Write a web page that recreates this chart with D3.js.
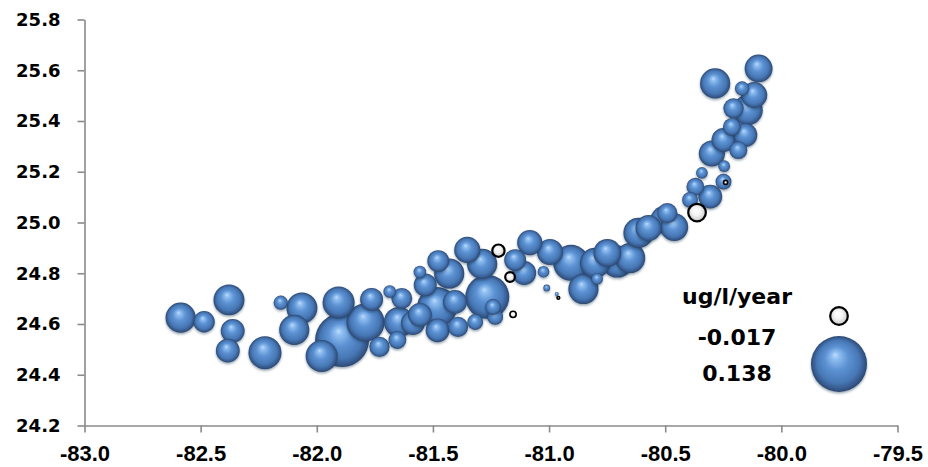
<!DOCTYPE html>
<html>
<head>
<meta charset="utf-8">
<script src="https://cdn.jsdelivr.net/npm/d3@7"></script>
<style>
  html, body { margin: 0; padding: 0; background: #fff; }
  svg { display: block; }
</style>
</head>
<body>
<svg id="chart" width="928" height="467"></svg>
<script>
// Station longitude, latitude and trend (ug/l/year); negative trends are drawn hollow
const lon = [
  -82.586, -82.485, -82.378, -82.362, -82.383, -82.223, -82.155, -82.064, -82.097,
  -81.906, -81.891, -81.979, -81.790, -81.764, -81.686, -81.634, -81.646, -81.730,
  -81.653, -81.556, -81.533, -81.477, -81.430, -81.352, -81.288, -81.266, -81.482,
  -81.586, -81.480, -81.392, -81.318, -81.232, -81.241, -81.405, -81.556, -81.146,
  -81.107, -81.083, -81.024, -81.010, -80.967, -80.996, -80.905, -80.852, -80.793,
  -80.802, -80.749, -80.706, -80.651, -80.615, -80.572, -80.504, -80.461, -80.491,
  -80.393, -80.370, -80.306, -80.342, -80.246, -80.249, -80.299, -80.185, -80.249,
  -80.155, -80.213, -80.206, -80.145, -80.169, -80.117, -80.285, -80.098,
  -81.218, -81.168, -81.155, -80.960, -80.363, -80.240
];
const lat = [
  24.625, 24.609, 24.695, 24.573, 24.495, 24.487, 24.684, 24.663, 24.577,
  24.685, 24.537, 24.474, 24.606, 24.697, 24.728, 24.701, 24.608, 24.510,
  24.537, 24.805, 24.754, 24.848, 24.799, 24.892, 24.837, 24.707, 24.667,
  24.604, 24.575, 24.589, 24.608, 24.628, 24.667, 24.687, 24.636, 24.852,
  24.801, 24.921, 24.806, 24.742, 24.718, 24.884, 24.841, 24.738, 24.778,
  24.841, 24.880, 24.846, 24.860, 24.959, 24.978, 25.010, 24.982, 25.037,
  25.089, 25.141, 25.102, 25.196, 25.222, 25.161, 25.272, 25.285, 25.325,
  25.345, 25.377, 25.450, 25.443, 25.528, 25.502, 25.548, 25.607,
  24.889, 24.785, 24.638, 24.703, 25.039, 25.158
];
const rate = [
  0.040, 0.020, 0.042, 0.025, 0.025, 0.048, 0.009, 0.042, 0.040,
  0.045, 0.128, 0.045, 0.064, 0.023, 0.007, 0.019, 0.040, 0.018,
  0.014, 0.007, 0.023, 0.021, 0.040, 0.030, 0.040, 0.085, 0.070,
  0.025, 0.025, 0.018, 0.011, 0.011, 0.011, 0.025, 0.025, 0.021,
  0.025, 0.028, 0.006, 0.002, 0.0007, 0.030, 0.057, 0.040, 0.006,
  0.040, 0.034, 0.045, 0.040, 0.040, 0.030, 0.034, 0.034, 0.018,
  0.011, 0.014, 0.025, 0.006, 0.006, 0.011, 0.030, 0.014, 0.025,
  0.025, 0.014, 0.018, 0.040, 0.009, 0.030, 0.040, 0.034,
  -0.009, -0.006, -0.003, -0.001, -0.017, -0.0016
];

const xTicks = [-83.0, -82.5, -82.0, -81.5, -81.0, -80.5, -80.0, -79.5];
const yTicks = [24.2, 24.4, 24.6, 24.8, 25.0, 25.2, 25.4, 25.6, 25.8];

const legendTitle = "ug/l/year";
const legendValues = [-0.017, 0.138];

const svg = d3.select("#chart");
const axisColor = "#8a8a8a";

const x = d3.scaleLinear().domain([-83, -79.5]).range([84.5, 897.5]);
const y = d3.scaleLinear().domain([24.2, 25.8]).range([425.5, 19.5]);
const r = d3.scaleSqrt().domain([0, 0.138]).range([0, 28]);

// Gradients: shaded blue sphere and pale sphere for negative trends
const defs = svg.append("defs");
const blue = defs.append("radialGradient").attr("id", "ballBlue")
  .attr("cx", "50%").attr("cy", "50%").attr("r", "50%")
  .attr("fx", "43%").attr("fy", "33%");
[[0, "#bcdcfd"], [0.14, "#8fbdf0"], [0.42, "#5c92d3"], [0.76, "#4777b5"],
 [0.92, "#36598c"], [1, "#2a476f"]].forEach(([o, c]) =>
  blue.append("stop").attr("offset", o).attr("stop-color", c));

const white = defs.append("radialGradient").attr("id", "ballWhite")
  .attr("cx", "50%").attr("cy", "50%").attr("r", "50%")
  .attr("fx", "42%").attr("fy", "32%");
[[0, "#ffffff"], [0.5, "#f4f4f4"], [1, "#c8c8c8"]].forEach(([o, c]) =>
  white.append("stop").attr("offset", o).attr("stop-color", c));

// Soft shadow under each sphere
const shadow = defs.append("filter").attr("id", "ballShadow")
  .attr("x", "-30%").attr("y", "-30%").attr("width", "160%").attr("height", "170%");
shadow.append("feDropShadow")
  .attr("dx", 0).attr("dy", 1.5).attr("stdDeviation", 1.2)
  .attr("flood-color", "#1d3350").attr("flood-opacity", 0.45);

// Axes
const yAxis = d3.axisLeft(y).tickValues(yTicks).tickFormat(d => d.toFixed(1))
  .tickSize(7).tickSizeOuter(0).tickPadding(17);
const xAxis = d3.axisBottom(x).tickValues(xTicks).tickFormat(d => d.toFixed(1))
  .tickSize(7).tickSizeOuter(0).tickPadding(13);

const gy = svg.append("g").attr("transform", `translate(${x(-83)},0)`).call(yAxis);
const gx = svg.append("g").attr("transform", `translate(0,${y(24.2)})`).call(xAxis);

[gx, gy].forEach(g => {
  g.select(".domain").attr("stroke", axisColor).attr("stroke-width", 1.6);
  g.selectAll(".tick line").attr("stroke", axisColor).attr("stroke-width", 1.6);
});
gy.selectAll(".tick text")
  .attr("fill", "#000")
  .style("font-family", "'DejaVu Sans', sans-serif")
  .style("font-weight", "bold")
  .style("font-size", "18px");
gx.selectAll(".tick text")
  .attr("fill", "#000")
  .style("font-family", "'Liberation Sans', Arial, sans-serif")
  .style("font-weight", "bold")
  .style("font-size", "22px");

// Bubbles: larger ones behind, negative trends on top
const pts = lon.map((d, i) => ({ lon: d, lat: lat[i], v: rate[i] }));
const pos = pts.filter(d => d.v >= 0).sort((a, b) => b.v - a.v);
const neg = pts.filter(d => d.v < 0).sort((a, b) => a.v - b.v);

const plot = svg.append("g");
plot.selectAll("circle.pos").data(pos).join("circle")
  .attr("class", "pos")
  .attr("cx", d => x(d.lon)).attr("cy", d => y(d.lat))
  .attr("r", d => r(d.v))
  .attr("fill", "url(#ballBlue)")
  .attr("filter", "url(#ballShadow)");

function drawNeg(sel) {
  sel.attr("r", d => Math.max(r(Math.abs(d.v)) - 1, 1))
    .attr("fill", "url(#ballWhite)")
    .attr("stroke", "#000")
    .attr("stroke-width", d => r(Math.abs(d.v)) > 5 ? 2.2 : 1.6);
}
plot.selectAll("circle.neg").data(neg).join("circle")
  .attr("class", "neg")
  .attr("cx", d => x(d.lon)).attr("cy", d => y(d.lat))
  .call(drawNeg);

// Legend
const legend = svg.append("g");
const lx = 737, bx = 839;
const legendFont = g => g
  .attr("text-anchor", "middle")
  .attr("fill", "#000")
  .style("font-family", "'DejaVu Sans', sans-serif")
  .style("font-weight", "bold")
  .style("font-size", "22px");
legend.append("text").attr("x", lx).attr("y", 304).text(legendTitle).call(legendFont);
legend.append("text").attr("x", lx).attr("y", 345).text(legendValues[0].toFixed(3)).call(legendFont);
legend.append("text").attr("x", lx).attr("y", 381).text(legendValues[1].toFixed(3)).call(legendFont);

legend.append("circle").datum({ v: legendValues[0] })
  .attr("cx", bx).attr("cy", 316).call(drawNeg);
legend.append("circle")
  .attr("cx", bx).attr("cy", 364).attr("r", r(legendValues[1]))
  .attr("fill", "url(#ballBlue)")
  .attr("filter", "url(#ballShadow)");
</script>
</body>
</html>
